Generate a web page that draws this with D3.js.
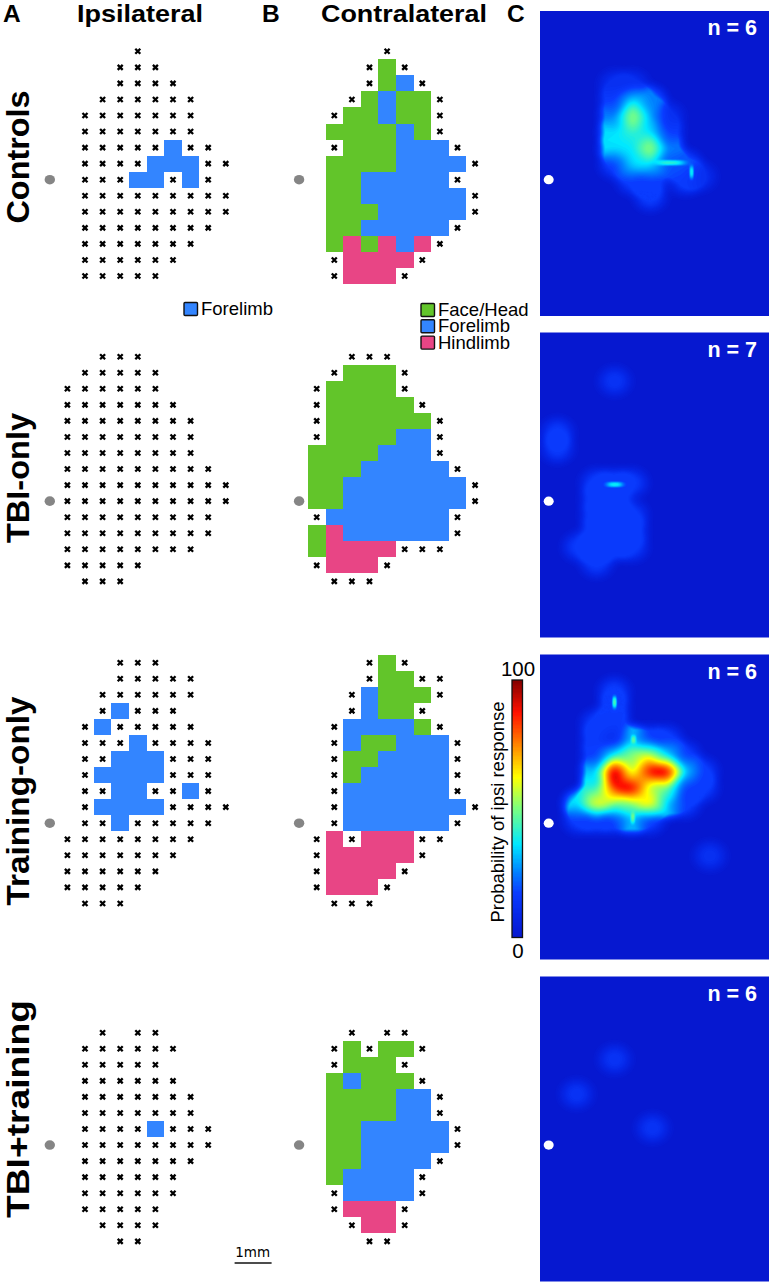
<!DOCTYPE html>
<html>
<head>
<meta charset="utf-8">
<script src="https://cdn.jsdelivr.net/npm/d3@7"></script>
<style>
  html, body { margin: 0; background: #fff; }
  svg { display: block; font-family: "Liberation Sans", sans-serif; }
</style>
</head>
<body>
<svg width="771" height="1284"></svg>
<script>
// site codes: . not mapped, x no response, G face/head, F forelimb, H hindlimb
const ipsiControls = [
    "....x.....", "...xxx....", "...xxxx...", "..xxxxxx..", ".xxxxxxx..",
    ".xxxxxxx..", ".xxxxxFxx.", ".xxxxFFFxx", ".xxxFFxFx.", ".xxxxxxxxx",
    ".xxxxxxxxx", ".xxxxxxxx.", ".xxxxxxx..", ".xxxxxx...", ".xxxxx....",
];
const contraControls = [
    "....x.....", "...xGx....", "...xGFx...", "..xGFGGx..", ".xGGFGGx..",
    ".GGGGFGx..", ".xGGGFFFx.", ".GGGGFFFFx", ".GGFFFFFx.", ".GGFFFFFFx",
    ".GGGFFFFFx", ".GGFFFFFx.", ".GHGHFHx..", ".xHHHHx...", ".xHHHx....",
];
const ipsiTbi = [
    "..xxx.....", ".xxxxx....", "xxxxxx....", "xxxxxxx...", "xxxxxxxx..",
    "xxxxxxxx..", "xxxxxxxx..", "xxxxxxxxx.", "xxxxxxxxxx", "xxxxxxxxxx",
    "xxxxxxxxx.", "xxxxxxxxx.", "xxxxxxxx..", "xxxxx.....", ".xxx......",
];
const contraTbi = [
    "..xxx.....", ".xGGGx....", "xGGGGx....", "xGGGGGx...", "xGGGGGGx..",
    "xGGGGFFx..", "GGGGFFFx..", "GGGFFFFFx.", "GGFFFFFFFx", "GGFFFFFFFx",
    "xFFFFFFFx.", "GHFFFFFFx.", "GHHHHxxx..", "xHHHx.....", ".xxx......",
];
const ipsiTraining = [
    "...xxx....", "...xxxxx..", "..xxxxxx..", "..xFxxx...", ".xFxxxxx..",
    ".xxxFxxxx.", ".xxFFFxxx.", ".xFFFFxxx.", ".xxFFxxFx.", ".xFFFFxxxx",
    ".xxFxxxxx.", "xxxxxxxx..", "xxxxxxx...", "xxxxxx....", "xxxxx.....",
    ".xxx......",
];
const contraTraining = [
    "...xGx....", "...xGGxx..", "..xFGGGx..", "..xFGGx...", ".xFFFFGx..",
    ".xFGGFFFx.", ".xGGFFFFx.", ".xGFFFFFx.", ".xFFFFFFx.", ".xFFFFFFFx",
    ".xFFFFFFx.", "xHxHHHxx..", "xHHHHHx...", "xHHHHx....", "xHHHx.....",
    ".xxx......",
];
const ipsiCombo = [
    "..x.xx....", ".xxxxxx...", ".xxxxx....", ".xxxxxx...", ".xxxxxxx..",
    ".xxxxxxx..", ".xxxxFxxx.", ".xxxxxxxx.", ".xxxxxxx..", ".xxxxxx...",
    ".xxxxxx...", ".xxxxx....", "..xxxx....", "...xx.....",
];
const contraCombo = [
    "..x.xx....", ".xGxGGx...", ".xGGGx....", ".GFGGGx...", ".GGGGFFx..",
    ".GGGGFFx..", ".GGFFFFFx.", ".GGFFFFFx.", ".GGFFFFx..", ".GFFFFx...",
    ".xFFFFx...", ".xHHHx....", "..xHHx....", "...xx.....",
];

// probability of an ipsi response (%), on a 0.5 mm grid
const heatControls = [
    [12, 12, 0, 0, 0, 0],
    [17, 36, 25, 0, 0, 0],
    [25, 56, 30, 12, 0, 0],
    [36, 42, 36, 17, 0, 0],
    [36, 36, 56, 25, 0, 0],
    [17, 36, 36, 20, 20, 0],
    [0, 17, 17, 0, 17, 0],
    [0, 0, 17, 0, 0, 0],
];
const heatTbi = [
    [0, 16, 16, 16],
    [0, 16, 16, 0],
    [0, 16, 16, 16],
    [0, 16, 16, 16],
    [16, 16, 16, 16],
    [0, 16, 0, 0],
];
const heatTraining = [
    [0, 0, 17, 0, 0, 0, 0, 0],
    [0, 0, 17, 0, 0, 0, 0, 0],
    [0, 17, 17, 0, 0, 0, 0, 0],
    [0, 17, 10, 33, 17, 17, 0, 0],
    [0, 17, 40, 52, 60, 36, 17, 0],
    [0, 33, 100, 55, 90, 95, 36, 17],
    [0, 40, 85, 95, 55, 50, 17, 17],
    [36, 65, 50, 50, 68, 33, 17, 0],
    [17, 17, 17, 33, 17, 0, 0, 0],
];

// [lateral mm, anterior mm, %] isolated hot spots
const spotsControls = [[4.3, 0.1, 12]];
const spotsTbi = [[1.875, 3.75, 14], [0.25, 2.15, 16], [0.25, 1.65, 16]];
const spotsTraining = [[4.58, -1.02, 13]];
const spotsCombo = [[1.875, 2.68, 14], [0.795, 1.59, 14], [2.95, 0.53, 14]];

// [lateral mm, anterior mm, %, half width mm, half height mm] thin ridges
const ridgesControls = [[4.06, 0.23, 22, 0.1, 0.35], [3.5, 0.53, 20, 0.65, 0.14]];
const ridgesTbi = [[1.875, 0.52, 22, 0.42, 0.14]];
const ridgesTraining = [[1.87, 3.78, 28, 0.1, 0.32], [2.39, 0.16, 15, 0.1, 0.28], [2.41, 2.62, 15, 0.12, 0.22]];
const ridgesCombo = [];

const groupNames = ["Controls", "TBI-only", "Training-only", "TBI+training"];
const animalCounts = [6, 7, 6, 6];
const dotRows = [8, 9, 10, 7];
const colorTicks = [0, 100];

const colorStops = [0, 8, 17, 25, 36, 50, 62, 75, 87, 100];
const colorValues = ["#0618d0", "#0626e6", "#0a3cff", "#0080ff", "#00e8ff", "#7dff7d", "#ffff00", "#ff8000", "#ff1000", "#7f0000"];
const color = d3.scaleLinear().domain(colorStops).range(colorValues);
const siteColor = { G: "#62c52a", F: "#3385ff", H: "#e84585" };

const panels = [
    { ipsi: ipsiControls, contra: contraControls, heat: heatControls, heat0: [1.885, 2.98], spots: spotsControls, ridges: ridgesControls, rowTop: 51.3, heatTop: 11 },
    { ipsi: ipsiTbi, contra: contraTbi, heat: heatTbi, heat0: [0.86, 0.57], spots: spotsTbi, ridges: ridgesTbi, rowTop: 356.7, heatTop: 332.5 },
    { ipsi: ipsiTraining, contra: contraTraining, heat: heatTraining, heat0: [0.86, 4.11], spots: spotsTraining, ridges: ridgesTraining, rowTop: 662.7, heatTop: 654.5 },
    { ipsi: ipsiCombo, contra: contraCombo, heat: [], heat0: [0, 0], spots: spotsCombo, ridges: ridgesCombo, rowTop: 1032.7, heatTop: 976.5 },
];

const svg = d3.select("svg");
const rowPitch = 16.05;
const heatW = 229;
const heatH = 305;
const xIpsi = d3.scaleLinear().domain([0, 9]).range([67.4, 225.8]);
const xContra = d3.scaleLinear().domain([0, 9]).range([316.7, 475.1]);

const drawMap = (g, rows, x, y, dotRow) => {
    const sites = rows.flatMap((row, r) => row.split("").map((code, c) => ({ code, c, r })));
    const cw = x(1) - x(0);

    g.selectAll("rect")
        .data(sites.filter((d) => siteColor[d.code]))
        .join("rect")
        .attr("x", (d) => x(d.c) - cw / 2)
        .attr("y", (d) => y(d.r) - rowPitch / 2)
        .attr("width", cw)
        .attr("height", rowPitch)
        .attr("shape-rendering", "crispEdges")
        .attr("fill", (d) => siteColor[d.code]);

    g.selectAll("path")
        .data(sites.filter((d) => d.code === "x"))
        .join("path")
        .attr("d", d3.symbol(d3.symbolX, 18))
        .attr("transform", (d) => `translate(${x(d.c)},${y(d.r)})`)
        .attr("fill", "none")
        .attr("stroke", "#000")
        .attr("stroke-width", 2.3);

    g.append("ellipse")
        .attr("cx", x(-1))
        .attr("cy", y(dotRow))
        .attr("rx", 5.2)
        .attr("ry", 4.8)
        .attr("fill", "#858585");
};

const falloff = (t) => {
    const a = Math.abs(t);
    if (a >= 1) return 0;
    return 1 - a * a * a * (a * (a * 6 - 15) + 10);
};

const blobRadius = 0.78;
const blendRadius = 0.85;

// value blends from the nearby samples, edge softness from the summed reach
const heatAt = (lm, am, samples, ridges) => {
    let reach = 0;
    let weight = 0;
    let total = 0;
    for (const s of samples) {
        const d = Math.hypot(lm - s[0], am - s[1]);
        const w = falloff(d / blendRadius);
        if (w === 0) continue;
        reach += falloff(d / blobRadius);
        weight += w * w;
        total += s[2] * w * w;
    }
    let v = weight > 0 ? (total / weight) * Math.min(1, reach) : 0;
    for (const s of ridges) {
        v += s[2] * falloff((lm - s[0]) / s[3]) * falloff((am - s[1]) / s[4]);
    }
    return v;
};

const heatSamples = (p) => {
    const grid = p.heat.flatMap((row, i) =>
        row.map((v, j) => [p.heat0[0] + j * 0.5, p.heat0[1] - i * 0.5, v])
    );
    return grid.concat(p.spots).filter((s) => s[2] > 0);
};

const drawHeat = (g, p, top, dotY, n) => {
    const xMm = d3.scaleLinear().domain([0, 1]).range([8.7, 43.9]);
    const yMm = d3.scaleLinear().domain([0, 1]).range([dotY - top, dotY - top - 32]);
    const samples = heatSamples(p);

    const field = new Float64Array(heatW * heatH);
    for (let j = 0; j < heatH; j++) {
        const am = yMm.invert(j + 0.5);
        for (let i = 0; i < heatW; i++) {
            field[j * heatW + i] = heatAt(xMm.invert(i + 0.5), am, samples, p.ridges);
        }
    }

    g.attr("transform", `translate(540,${top})`);
    g.append("rect")
        .attr("width", heatW)
        .attr("height", heatH)
        .attr("fill", color(0));

    const contours = d3.contours().size([heatW, heatH]).thresholds(d3.range(1, 100, 1))(field);
    g.selectAll("path")
        .data(contours.filter((d) => d.coordinates.length))
        .join("path")
        .attr("d", d3.geoPath())
        .attr("fill", (d) => color(d.value));

    g.append("ellipse")
        .attr("cx", xMm(0))
        .attr("cy", yMm(0))
        .attr("rx", 5)
        .attr("ry", 4.6)
        .attr("fill", "#fff");

    g.append("text")
        .attr("x", 217)
        .attr("y", 24)
        .attr("text-anchor", "end")
        .attr("font-size", 21.5)
        .attr("font-weight", "bold")
        .attr("fill", "#fff")
        .text(`n = ${n}`);
};

panels.forEach((p, i) => {
    const y = d3.scaleLinear().domain([0, 1]).range([p.rowTop, p.rowTop + rowPitch]);
    drawMap(svg.append("g").attr("class", "ipsi"), p.ipsi, xIpsi, y, dotRows[i]);
    drawMap(svg.append("g").attr("class", "contra"), p.contra, xContra, y, dotRows[i]);
    drawHeat(svg.append("g").attr("class", "heat"), p, p.heatTop, y(dotRows[i]), animalCounts[i]);
});

// row labels
const labelCenters = [157, 478, 801, 1109];
const labelLengths = [133, 130, 209, 218];
svg.selectAll(".group-label")
    .data(groupNames)
    .join("text")
    .attr("class", "group-label")
    .attr("transform", (d, i) => `translate(28.5,${labelCenters[i]}) rotate(-90)`)
    .attr("text-anchor", "middle")
    .attr("font-size", 31)
    .attr("font-weight", "bold")
    .attr("textLength", (d, i) => labelLengths[i])
    .attr("lengthAdjust", "spacingAndGlyphs")
    .text((d) => d);

// column headings
const headings = [
    { t: "A", x: 3 }, { t: "Ipsilateral", x: 77, w: 126 }, { t: "B", x: 262 },
    { t: "Contralateral", x: 321, w: 166 }, { t: "C", x: 507 },
];
svg.selectAll(".heading")
    .data(headings)
    .join("text")
    .attr("class", "heading")
    .attr("x", (d) => d.x)
    .attr("y", 22)
    .attr("font-size", 24.5)
    .attr("font-weight", "bold")
    .attr("textLength", (d) => d.w || null)
    .attr("lengthAdjust", "spacingAndGlyphs")
    .text((d) => d.t);

// legends
const drawLegend = (items, x, y0) => {
    const g = svg.append("g").attr("class", "legend");
    items.forEach(([label, code], i) => {
        const y = y0 + i * 16.3;
        g.append("rect")
            .attr("x", x)
            .attr("y", y)
            .attr("width", 13.5)
            .attr("height", 13)
            .attr("rx", 1)
            .attr("fill", siteColor[code])
            .attr("stroke", "#111")
            .attr("stroke-width", 1.4);
        g.append("text")
            .attr("x", x + 17)
            .attr("y", y + 12.5)
            .attr("font-size", 18.5)
            .text(label);
    });
};
drawLegend([["Forelimb", "F"]], 184, 302.5);
drawLegend([["Face/Head", "G"], ["Forelimb", "F"], ["Hindlimb", "H"]], 421, 303.5);

// colour bar
const yBar = d3.scaleLinear().domain([0, 100]).range([937.5, 680]);
const barG = svg.append("g").attr("class", "colorbar");
barG.selectAll("rect")
    .data(d3.range(0, 100, 0.5))
    .join("rect")
    .attr("x", 512)
    .attr("y", (d) => yBar(d + 0.5))
    .attr("width", 10.5)
    .attr("height", yBar(0) - yBar(0.5))
    .attr("shape-rendering", "crispEdges")
    .attr("fill", (d) => color(d));
barG.append("rect")
    .attr("x", 512)
    .attr("y", yBar(100))
    .attr("width", 10.5)
    .attr("height", yBar(0) - yBar(100))
    .attr("fill", "none")
    .attr("stroke", "#111")
    .attr("stroke-width", 1.3);
barG.selectAll("text")
    .data(colorTicks)
    .join("text")
    .attr("x", 518)
    .attr("y", (d) => (d === 0 ? yBar(d) + 20 : yBar(d) - 4))
    .attr("text-anchor", "middle")
    .attr("font-size", 20.5)
    .text((d) => d);
svg.append("text")
    .attr("transform", "translate(503.5,812) rotate(-90)")
    .attr("text-anchor", "middle")
    .attr("font-size", 18.5)
    .text("Probability of ipsi response");

// scale bar
svg.append("line")
    .attr("x1", xIpsi(9.5))
    .attr("x2", xIpsi(9.5) + 37)
    .attr("y1", 1263)
    .attr("y2", 1263)
    .attr("stroke", "#111")
    .attr("stroke-width", 1.5);
svg.append("text")
    .attr("x", xIpsi(9.5) + 18)
    .attr("y", 1257)
    .attr("text-anchor", "middle")
    .attr("font-family", "DejaVu Sans")
    .attr("font-size", 13.5)
    .text("1mm");
</script>
</body>
</html>
